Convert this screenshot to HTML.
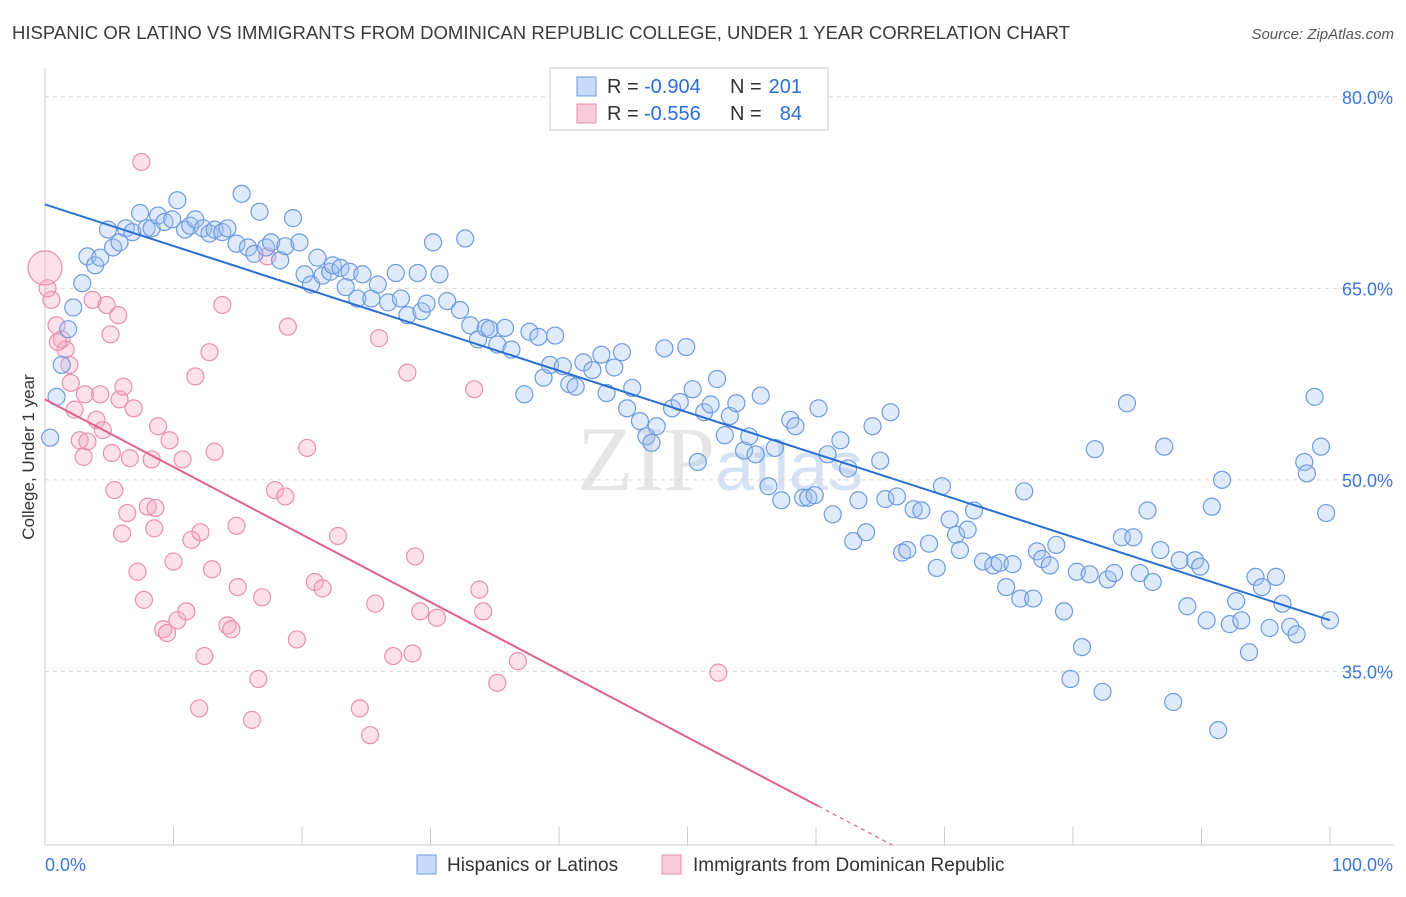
<!DOCTYPE html>
<html><head><meta charset="utf-8">
<style>
html,body{margin:0;padding:0;background:#fff;}
body{width:1406px;height:892px;overflow:hidden;font-family:"Liberation Sans",sans-serif;}
</style></head>
<body>
<svg id="chart" width="1406" height="892" viewBox="0 0 1406 892" xmlns="http://www.w3.org/2000/svg">
<text x="12" y="39" font-size="18" fill="#3a3a3a" textLength="1058" lengthAdjust="spacingAndGlyphs">HISPANIC OR LATINO VS IMMIGRANTS FROM DOMINICAN REPUBLIC COLLEGE, UNDER 1 YEAR CORRELATION CHART</text>
<text x="1394" y="39" font-size="15" fill="#555" font-style="italic" text-anchor="end">Source: ZipAtlas.com</text>
<text x="720" y="490" font-size="92" fill="#e6e6e6" text-anchor="middle" font-family="Liberation Serif,serif">ZIP<tspan fill="#d5e2f5" font-family="Liberation Sans,sans-serif" font-size="70">atlas</tspan></text>
<g id="grid"></g>
<g id="axes"></g>
<g id="points"></g>
<g id="trends"></g>
<text transform="translate(34,457) rotate(-90)" font-size="17" fill="#333" text-anchor="middle">College, Under 1 year</text>
<g>
<rect x="550" y="68" width="278" height="62" fill="#fff" stroke="#ccc"/>
<rect x="577" y="77" width="19" height="19" fill="rgba(164,194,240,0.6)" stroke="#6f9be0"/>
<rect x="577" y="104" width="19" height="19" fill="rgba(245,170,195,0.6)" stroke="#e890b0"/>
<text x="607" y="93" font-size="20" fill="#333">R =</text>
<text x="644" y="93" font-size="20" fill="#2a6fd6">-0.904</text>
<text x="730" y="93" font-size="20" fill="#333">N =</text>
<text x="802" y="93" font-size="20" fill="#2a6fd6" text-anchor="end">201</text>
<text x="607" y="120" font-size="20" fill="#333">R =</text>
<text x="644" y="120" font-size="20" fill="#2a6fd6">-0.556</text>
<text x="730" y="120" font-size="20" fill="#333">N =</text>
<text x="802" y="120" font-size="20" fill="#2a6fd6" text-anchor="end">84</text>
</g>
<g>
<rect x="417" y="855" width="19" height="19" fill="rgba(164,194,240,0.6)" stroke="#6f9be0"/>
<text x="447" y="871" font-size="19" fill="#333">Hispanics or Latinos</text>
<rect x="662" y="855" width="19" height="19" fill="rgba(245,170,195,0.6)" stroke="#e890b0"/>
<text x="693" y="871" font-size="19" fill="#333">Immigrants from Dominican Republic</text>
</g>
</svg>
<script>
const yTicks=[80,65,50,35];
const yTickLabels=["80.0%","65.0%","50.0%","35.0%"];
const xTicks=[0,10,20,30,40,50,60,70,80,90,100];
const xEndLabels=["0.0%","100.0%"];
const blueX=[0.4,0.9,1.3,1.8,2.2,2.9,3.3,3.9,4.3,4.9,5.3,5.8,6.3,6.8,7.4,7.9,8.3,8.8,9.3,9.9,10.3,10.9,11.3,11.7,12.3,12.8,13.2,13.8,14.2,14.9,15.3,15.8,16.3,16.7,17.2,17.6,18.3,18.7,19.3,19.8,20.2,20.7,21.2,21.6,22.2,22.4,23.0,23.4,23.7,24.3,24.7,25.4,25.9,26.7,27.3,27.7,28.2,29.0,29.3,29.7,30.2,30.7,31.3,32.3,32.7,33.1,33.7,34.3,34.6,35.2,35.8,36.3,37.3,37.7,38.4,38.8,39.3,39.7,40.3,40.8,41.3,41.9,42.6,43.3,43.7,44.3,44.9,45.3,45.7,46.3,46.8,47.2,47.6,48.2,48.8,49.4,49.9,50.4,50.8,51.3,51.8,52.3,52.9,53.3,53.8,54.4,54.8,55.3,55.7,56.3,56.8,57.3,58.0,58.4,59.0,59.4,59.9,60.2,60.9,61.3,61.9,62.5,62.9,63.3,63.9,64.4,65.0,65.4,65.8,66.3,66.7,67.1,67.6,68.2,68.8,69.4,69.8,70.4,70.9,71.2,71.8,72.3,73.0,73.8,74.3,74.8,75.3,75.9,76.2,76.9,77.2,77.6,78.2,78.7,79.3,79.8,80.3,80.7,81.3,81.7,82.3,82.7,83.2,83.8,84.2,84.7,85.2,85.8,86.2,86.8,87.1,87.8,88.3,88.9,89.5,89.9,90.4,90.8,91.3,91.6,92.2,92.7,93.1,93.7,94.2,94.7,95.3,95.8,96.3,96.9,97.4,98.0,98.2,98.8,99.3,99.7,100];
const blueY=[53.3,56.5,59.0,61.8,63.5,65.4,67.5,66.8,67.4,69.6,68.2,68.6,69.7,69.4,70.9,69.7,69.7,70.7,70.2,70.4,71.9,69.6,69.9,70.4,69.7,69.3,69.6,69.4,69.7,68.5,72.4,68.2,67.7,71.0,68.2,68.6,67.2,68.3,70.5,68.6,66.1,65.3,67.4,66.0,66.3,66.8,66.6,65.1,66.3,64.2,66.1,64.2,65.3,63.9,66.2,64.2,62.9,66.2,63.2,63.8,68.6,66.1,64.0,63.3,68.9,62.1,61.0,61.9,61.8,60.6,61.9,60.2,56.7,61.6,61.2,58.0,59.0,61.3,58.9,57.5,57.3,59.2,58.6,59.8,56.8,58.8,60.0,55.6,57.2,54.6,53.4,52.9,54.2,60.3,55.6,56.1,60.4,57.1,51.4,55.3,55.9,57.9,53.5,55.0,56.0,52.3,53.4,52.0,56.6,49.5,52.5,48.4,54.7,54.2,48.6,48.6,48.8,55.6,52.0,47.3,53.1,50.9,45.2,48.4,45.9,54.2,51.5,48.5,55.3,48.7,44.3,44.5,47.7,47.6,45.0,43.1,49.5,46.9,45.7,44.5,46.1,47.6,43.6,43.3,43.5,41.6,43.4,40.7,49.1,40.7,44.4,43.8,43.3,44.9,39.7,34.4,42.8,36.9,42.6,52.4,33.4,42.2,42.7,45.5,56.0,45.5,42.7,47.6,42.0,44.5,52.6,32.6,43.7,40.1,43.7,43.2,39.0,47.9,30.4,50.0,38.7,40.5,39.0,36.5,42.4,41.6,38.4,42.4,40.3,38.5,37.9,51.4,50.5,56.5,52.6,47.4,39.0];
const pinkX=[0.5,0.9,1.3,1.6,1.9,2.3,2.7,3.1,3.3,3.7,4.0,4.3,4.5,4.8,5.1,5.2,5.4,5.7,5.8,6.1,6.4,6.6,6.9,7.2,7.5,7.7,8.0,8.3,8.6,8.8,9.2,9.5,9.7,10.0,10.3,10.7,11.0,11.4,11.7,12.0,12.1,12.4,12.8,13.0,13.2,13.8,14.2,14.5,14.9,15.0,16.1,16.6,16.9,17.3,17.9,18.7,18.9,19.6,20.4,21.0,21.6,22.8,24.5,25.3,25.7,26.0,27.1,28.2,28.6,28.8,29.2,30.5,33.4,33.8,34.1,35.2,36.8,52.4,0.2,1.0,2.0,3.0,6.0,8.5];
const pinkY=[64.1,62.1,61.0,60.2,59.0,55.5,53.1,56.7,53.0,64.1,54.7,56.7,53.9,63.7,61.4,52.1,49.2,62.9,56.3,57.3,47.4,51.7,55.6,42.8,74.9,40.6,47.9,51.6,47.8,54.2,38.3,38.0,53.1,43.6,39.0,51.6,39.7,45.3,58.1,32.1,45.9,36.2,60.0,43.0,52.2,63.7,38.6,38.3,46.4,41.6,31.2,34.4,40.8,67.5,49.2,48.7,62.0,37.5,52.5,42.0,41.5,45.6,32.1,30.0,40.3,61.1,36.2,58.4,36.4,44.0,39.7,39.2,57.1,41.4,39.7,34.1,35.8,34.9,65.0,60.8,57.6,51.8,45.8,46.2];
const bigPinkX=[0];
const bigPinkY=[66.6];

const NS="http://www.w3.org/2000/svg";
const X0=45,X1=1330,YMIN=21.4,YMAX=82.1,PY0=845,PY1=70;
const sx=v=>X0+(v/100)*(X1-X0);
const sy=v=>PY0-(v-YMIN)/(YMAX-YMIN)*(PY0-PY1);
function mk(tag,attrs,parent){const e=document.createElementNS(NS,tag);for(const k in attrs)e.setAttribute(k,attrs[k]);parent.appendChild(e);return e;}
const grid=document.getElementById('grid'),axes=document.getElementById('axes'),pts=document.getElementById('points'),tr=document.getElementById('trends');
yTicks.forEach((t,i)=>{
  const l=mk('line',{x1:45,x2:1394,y1:sy(t),y2:sy(t),stroke:'#d8d8d8','stroke-dasharray':'4,4'},grid);
  
  
  const tx=mk('text',{x:1393,y:sy(t)+7,'font-size':18,fill:'#3b78d8','text-anchor':'end'},axes);
  tx.textContent=yTickLabels[i];
  
  
});
const xl=mk('line',{x1:45,x2:1394,y1:845,y2:845,stroke:'#ccc'},axes);


const yl=mk('line',{x1:45,x2:45,y1:68,y2:845,stroke:'#ccc'},axes);


xTicks.forEach(t=>{
  const k=mk('line',{x1:sx(t),x2:sx(t),y1:827,y2:845,stroke:'#ccc'},axes);
  
  
});
const xa=mk('text',{x:45,y:871,'font-size':18,fill:'#3b78d8'},axes);xa.textContent=xEndLabels[0];


const xb=mk('text',{x:1393,y:871,'font-size':18,fill:'#3b78d8','text-anchor':'end'},axes);xb.textContent=xEndLabels[1];



function dots(xs,ys,fill,stroke,r,name){
  xs.forEach((x,i)=>{
    const c=mk('circle',{cx:sx(x),cy:sy(ys[i]),r:r,fill:fill,stroke:stroke,'stroke-width':1.2},pts);
    
    
  });
}
dots(pinkX,pinkY,'rgba(245,170,195,0.35)','#e890b0',8.5,'pink-point');
dots(bigPinkX,bigPinkY,'rgba(245,170,195,0.35)','#e890b0',17,'pink-point-large');
dots(blueX,blueY,'rgba(164,194,240,0.35)','#6f9be0',8.5,'blue-point');

function reg(xs,ys){const n=xs.length;let mx=0,my=0;xs.forEach((x,i)=>{mx+=x;my+=ys[i];});mx/=n;my/=n;let sxy=0,sxx=0;xs.forEach((x,i)=>{sxy+=(x-mx)*(ys[i]-my);sxx+=(x-mx)*(x-mx);});const b=sxy/sxx;return [my-b*mx,b];}
const [ba,bb]=reg(blueX,blueY);
const bl=mk('line',{x1:sx(0),y1:sy(ba),x2:sx(100),y2:sy(ba+bb*100),stroke:'#2a6fd6','stroke-width':2},tr);


const [pa,pb]=reg(pinkX.concat(bigPinkX),pinkY.concat(bigPinkY));
let xEnd=(YMIN-pa)/pb; if(xEnd>100)xEnd=100;
const xSolid=Math.min(60.2,xEnd);
const pl=mk('line',{x1:sx(0),y1:sy(pa),x2:sx(xSolid),y2:sy(pa+pb*xSolid),stroke:'#e0608e','stroke-width':2},tr);


const pd=mk('line',{x1:sx(xSolid),y1:sy(pa+pb*xSolid),x2:sx(xEnd),y2:sy(pa+pb*xEnd),stroke:'#e0608e','stroke-width':1.2,'stroke-dasharray':'4,4'},tr);


</script>
</body></html>
